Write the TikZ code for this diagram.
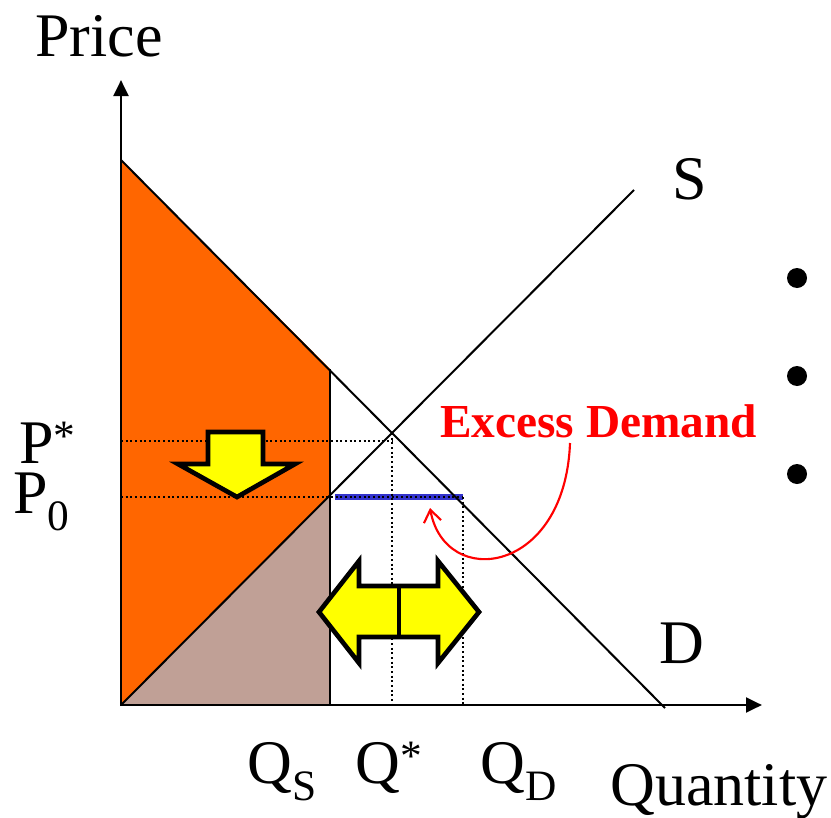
\documentclass[tikz,border=0pt]{standalone}
\usepackage{fontspec}
\setmainfont{Liberation Serif}
\usetikzlibrary{arrows.meta}
\definecolor{orng}{HTML}{FF6600}
\definecolor{brwn}{HTML}{C0A096}
\definecolor{ylw}{HTML}{FFFF00}
\definecolor{blu}{HTML}{3333CC}
\tikzset{
  big/.style={font=\fontsize{46.5}{54}\selectfont, inner sep=0pt},
  curve/.style={line width=1.5pt, black},
  dots/.style={line width=1.1pt, dash pattern=on 1.5pt off 2pt},
  axis/.style={line width=2.2pt, -{Triangle[length=12pt,width=11pt]}},
  fatarrow/.style={fill=ylw, draw=black, line width=3.5pt, line join=miter},
}
\begin{document}
\begin{tikzpicture}[x=0.75pt,y=-0.75pt]
\useasboundingbox (0,0) rectangle (831,817);
% coordinates
\coordinate (O) at (121,705);
\coordinate (Dtop) at (121,160);
\coordinate (Dend) at (665,708);
\coordinate (Stop) at (634,190);
\coordinate (QsD) at (330,369);
\coordinate (QsS) at (330,496);
\coordinate (QsB) at (330,705);
% regions
\fill[orng] (Dtop) -- (QsD) -- (QsB) -- (O) -- cycle;
\fill[brwn] (O) -- (QsS) -- (QsB) -- cycle;
% blue excess demand segment
\draw[blu, line width=4.5pt] (335,497) -- (463,497);
% dotted guides
\draw[dots] (121,441) -- (393,441);
\draw[dots] (121,497) -- (463,497);
\draw[dots] (392,433) -- (392,705);
\draw[dots] (463,497) -- (463,705);
% demand, supply
\draw[curve] (Dtop) -- (Dend);
\draw[curve] (O) -- (Stop);
\draw[line width=2pt] (QsD) -- (QsB);
% axes
\draw[axis] (121,706) -- (121,80);
\draw[axis] (120,705) -- (762,705);
% down arrow
\draw[fatarrow] (208,432) -- (263,432) -- (263,464) -- (295,464) -- (237,497) -- (178,464) -- (208,464) -- cycle;
% double arrow
\draw[fatarrow] (319,612) -- (359,561) -- (359,586) -- (438,586) -- (438,561) -- (479,612) -- (438,663) -- (438,637) -- (359,637) -- (359,663) -- cycle;
\draw[line width=3.5pt] (399,586) -- (399,637);
% excess demand label & arrow
\node[anchor=base west, inner sep=0pt, text=red, font=\fontsize{35.5}{42}\selectfont\bfseries] (ED) at (440,437) {Excess Demand};
\coordinate (EDs) at (570,443);
\coordinate (EDe) at (430,508);
\draw[red, line width=1.6pt, -{Straight Barb[length=9pt,width=13pt]}] (EDs) .. controls (565,575) and (445,590) .. (EDe);
% labels
\node[big, anchor=base west] (price) at (35,57) {Price};
\node[big, anchor=base west] (S) at (672,199) {S};
\node[big, anchor=base west] (D) at (659,663) {D};
\node[big, anchor=base west] (Pst) at (19,463) {P\textsuperscript{*}};
\node[big, anchor=base west] (P0) at (13,513) {P\textsubscript{0}};
\node[big, anchor=base west] (QS) at (247,783) {Q\textsubscript{S}};
\node[big, anchor=base west] (Qst) at (355,783) {Q\textsuperscript{*}};
\node[big, anchor=base west] (QD) at (480,783) {Q\textsubscript{D}};
\node[big, anchor=base west] (qty) at (610,805) {Quantity};
% bullets
\fill (797,278) circle (10);
\fill (797,376) circle (10);
\fill (797,474) circle (10);
\end{tikzpicture}
\end{document}
